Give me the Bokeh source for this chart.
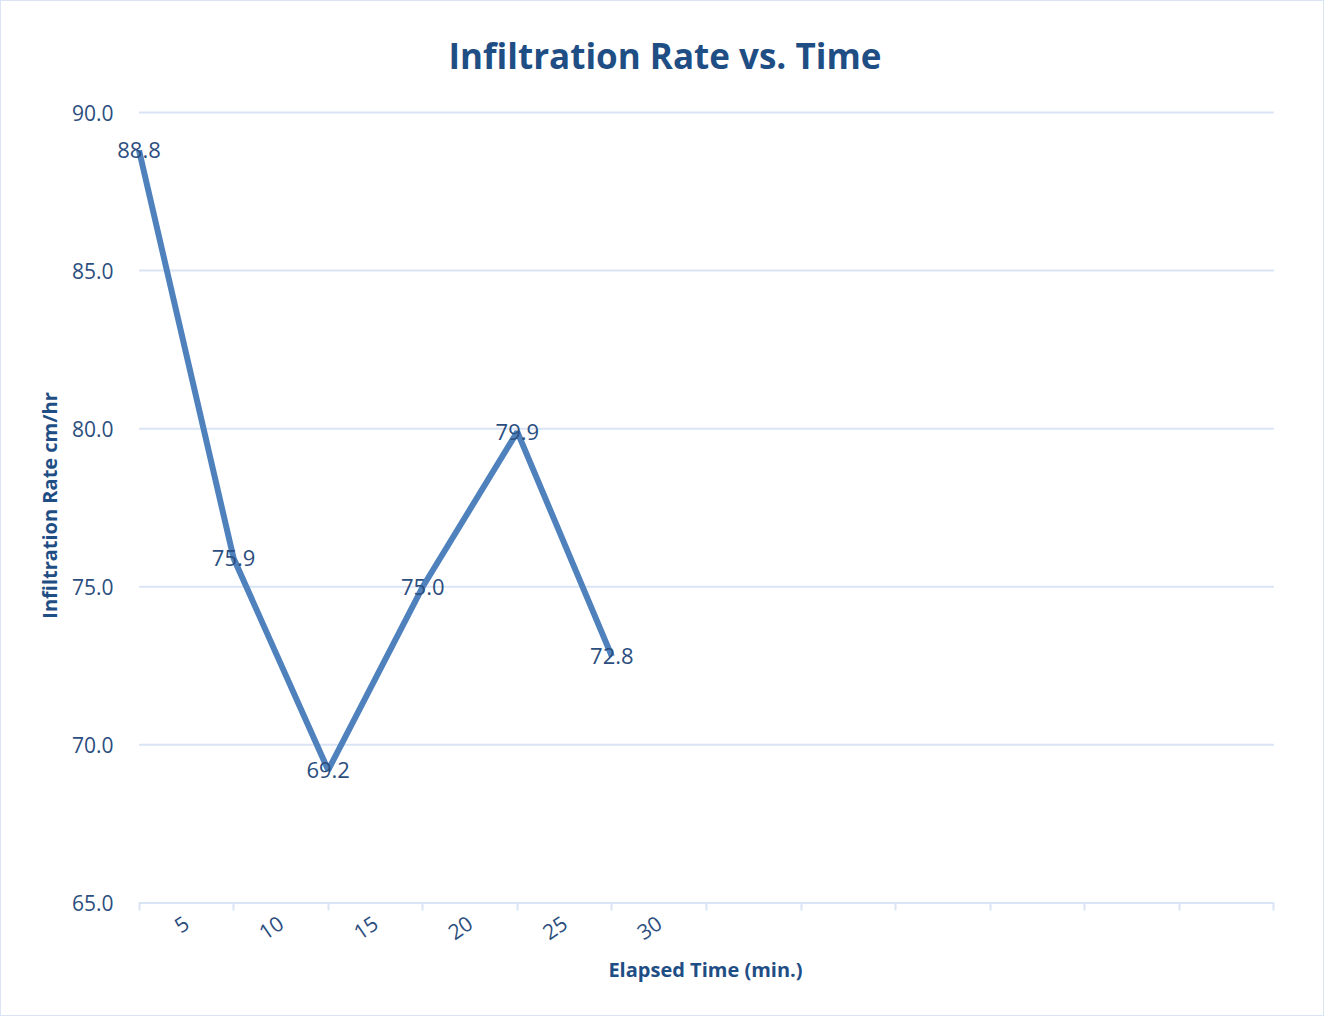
import math
from bokeh.plotting import figure
from bokeh.models import FixedTicker, Range1d, ColumnDataSource, NumeralTickFormatter
from bokeh.core.properties import value
from bokeh.embed import file_html
from bokeh.resources import INLINE

# ---- data ----
categories = ["5", "10", "15", "20", "25", "30"]
n_slots = 12
rates = [88.8, 75.9, 69.2, 75.0, 79.9, 72.8]
y_ticks = [65.0, 70.0, 75.0, 80.0, 85.0, 90.0]
rate_labels = [f"{v:.1f}" for v in rates]

TXT = "#2B4E7E"
TITLE_C = "#1F4E85"
GRID = "#D9E4F5"
LINE = "#4F81BD"
FONT = "Open Sans"

x_pos = list(range(len(categories)))
label_pos = [i + 0.5 for i in x_pos]

# small padding around the data area so that the first data label is not clipped
x_pad_lo, x_pad_hi = 0.27, 0.25
y_pad_lo, y_pad_hi = 0.05, 0.19

p = figure(width=1324, height=1016, output_backend="svg", toolbar_location=None,
           x_range=Range1d(-x_pad_lo, n_slots + x_pad_hi),
           y_range=Range1d(y_ticks[0] - y_pad_lo, y_ticks[-1] + y_pad_hi),
           min_border_left=112, min_border_right=28, min_border_top=105, min_border_bottom=113,
           title="Infiltration Rate vs. Time")
p.styles = {"border": f"1px solid {GRID}"}
p.outline_line_color = None
p.background_fill_color = "white"
p.border_fill_color = "white"

p.title.align = "left"
p.title.offset = 335
p.title.text_font = FONT
p.title.text_font_size = "35px"
p.title.text_font_style = "bold"
p.title.text_color = TITLE_C
p.title.standoff = 55

# x axis
p.xaxis.ticker = FixedTicker(ticks=label_pos, minor_ticks=list(range(n_slots + 1)))
p.xaxis.major_label_overrides = {pos: c for pos, c in zip(label_pos, categories)}
p.xaxis.major_tick_line_color = None
p.xaxis.minor_tick_line_color = GRID
p.xaxis.minor_tick_line_width = 2
p.xaxis.minor_tick_out = 6
p.xaxis.minor_tick_in = 2
p.xaxis.axis_line_color = None
p.xaxis.major_label_orientation = 0.6
p.xaxis.major_label_standoff = 10
p.xaxis.major_label_text_font = FONT
p.xaxis.major_label_text_font_size = "21px"
p.xaxis.major_label_text_color = TXT
p.xaxis.axis_label = "Elapsed Time (min.)"
p.xaxis.axis_label_text_font = FONT
p.xaxis.axis_label_text_font_size = "20px"
p.xaxis.axis_label_text_font_style = "bold"
p.xaxis.axis_label_text_color = TITLE_C
p.xaxis.axis_label_standoff = 6
p.xgrid.visible = False

# y axis
p.yaxis.ticker = FixedTicker(ticks=y_ticks)
p.yaxis.formatter = NumeralTickFormatter(format="0.0")
p.yaxis.axis_line_color = None
p.yaxis.major_tick_line_color = None
p.yaxis.minor_tick_line_color = None
p.yaxis.major_tick_out = 0
p.yaxis.major_tick_in = 0
p.yaxis.major_label_standoff = 0
p.yaxis.major_label_text_font = FONT
p.yaxis.major_label_text_font_size = "21px"
p.yaxis.major_label_text_color = TXT
p.yaxis.axis_label = "Infiltration Rate cm/hr"
p.yaxis.axis_label_text_font = FONT
p.yaxis.axis_label_text_font_size = "20px"
p.yaxis.axis_label_text_font_style = "bold"
p.yaxis.axis_label_text_color = TITLE_C
p.yaxis.axis_label_standoff = 6
p.ygrid.visible = False

# horizontal gridlines (the lowest one doubles as the category axis line)
grid_src = ColumnDataSource(dict(x0=[0] * len(y_ticks), x1=[n_slots] * len(y_ticks),
                                 y=y_ticks))
p.segment(x0="x0", x1="x1", y0="y", y1="y", source=grid_src,
          line_color=GRID, line_width=2)

src = ColumnDataSource(dict(x=x_pos, y=rates, lab=rate_labels))
p.line("x", "y", source=src, line_color=LINE, line_width=6)
p.text("x", "y", text="lab", source=src, text_align="center", text_baseline="middle",
       text_font=value(FONT), text_font_size="22px", text_color=TXT)

open("out.html", "w").write(file_html(p, INLINE))
